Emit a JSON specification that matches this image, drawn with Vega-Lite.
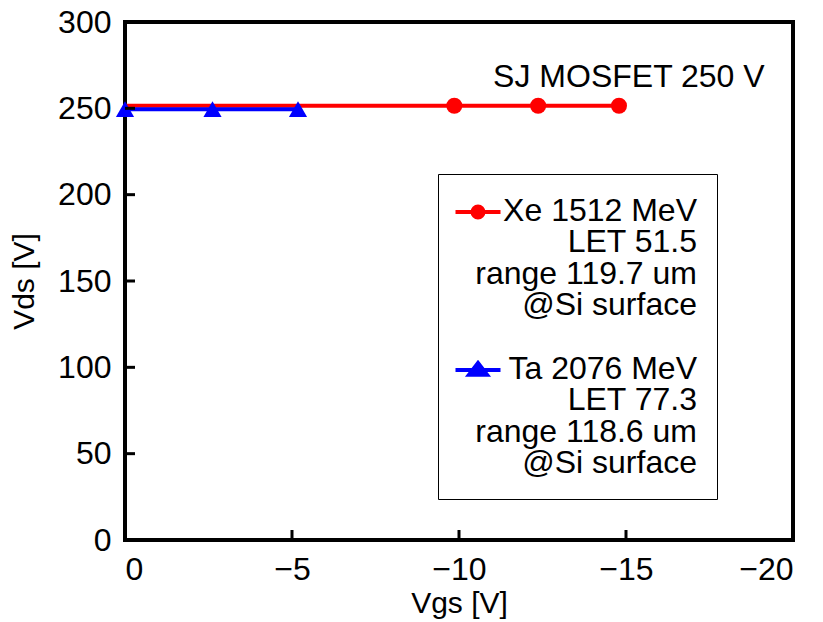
{
  "$schema": "https://vega.github.io/schema/vega-lite/v6.json",
  "width": 668,
  "height": 518,
  "autosize": {"type": "none"},
  "padding": {"left": 125, "top": 22, "right": 30, "bottom": 82},
  "background": "white",
  "title": {"text": "Ref. [11]", "fontSize": 32, "font": "Liberation Sans", "fontWeight": "normal", "baseline": "alphabetic", "offset": 17, "frame": "group", "color": "black"},
  "config": {
    "font": "Liberation Sans",
    "view": {"stroke": "black", "strokeWidth": 4},
    "axis": {"grid": false, "domain": false, "ticks": false, "labelFontSize": 32, "labelColor": "black", "titleFontSize": 30, "titleFontWeight": "normal", "titleColor": "black", "labelFont": "Liberation Sans", "titleFont": "Liberation Sans"}
  },
  "datasets": {
    "series": [
      {"ion": "Xe", "vgs": 0, "vds": 251.5},
      {"ion": "Xe", "vgs": -9.86, "vds": 251.5},
      {"ion": "Xe", "vgs": -12.37, "vds": 251.5},
      {"ion": "Xe", "vgs": -14.79, "vds": 251.5},
      {"ion": "Ta", "vgs": 0, "vds": 249.5},
      {"ion": "Ta", "vgs": -2.62, "vds": 249.5},
      {"ion": "Ta", "vgs": -5.18, "vds": 249.5}
    ],
    "xticks": [{"tick": -5}, {"tick": -10}, {"tick": -15}],
    "yticks": [{"tick": 50}, {"tick": 100}, {"tick": 150}, {"tick": 200}, {"tick": 250}]
  },
  "layer": [
    {
      "data": {"name": "series"},
      "mark": {"type": "line", "strokeWidth": 4},
      "encoding": {
        "x": {"field": "vgs", "type": "quantitative", "scale": {"domain": [-20, 0], "reverse": true, "nice": false},
          "axis": {"values": [0, -5, -10, -15, -20], "labelExpr": "datum.value == 0 ? '0' : '\u2212' + abs(datum.value)", "labelPadding": 14, "title": "Vgs [V]", "titlePadding": 3}},
        "y": {"field": "vds", "type": "quantitative", "scale": {"domain": [0, 300], "nice": false},
          "axis": {"values": [0, 50, 100, 150, 200, 250, 300], "labelPadding": 14, "title": "Vds [V]", "titlePadding": 18}},
        "color": {"field": "ion", "type": "nominal", "scale": {"domain": ["Xe", "Ta"], "range": ["#ff0000", "#0000ff"]}, "legend": {
          "orient": "none", "legendX": 313, "legendY": 152, "title": null, "direction": "vertical",
          "strokeColor": "black", "padding": 20,
          "labelFontSize": 32, "labelFont": "Liberation Sans", "labelColor": "black", "labelLimit": 500,
          "labelAlign": "right", "labelBaseline": "top", "rowPadding": 31, "symbolSize": 100,
          "labelExpr": "datum.value === 'Xe' ? ['Xe 1512 MeV', 'LET 51.5', 'range 119.7 um', '@Si surface'] : ['Ta 2076 MeV', 'LET 77.3', 'range 118.6 um', '@Si surface']",
          "encode": {
            "legend": {"update": {"strokeWidth": {"value": 1}}},
            "symbols": {"update": {
              "shape": {"signal": "datum.value === 'Xe' ? 'M-4.5,0H4.5M1.1,0A1.1,1.1 0 1 1 -1.1,0A1.1,1.1 0 1 1 1.1,0Z' : 'M-4.5,0H4.5M0,-1.4L1.8,0.95L-1.8,0.95Z'"},
              "size": {"value": 100},
              "x": {"value": 20},
              "y": {"value": 18},
              "fill": {"signal": "datum.value === 'Xe' ? '#ff0000' : '#0000ff'"},
              "stroke": {"signal": "datum.value === 'Xe' ? '#ff0000' : '#0000ff'"},
              "strokeWidth": {"value": 4},
              "opacity": {"value": 1}
            }},
            "labels": {"update": {"lineHeight": {"value": 31.3}, "x": {"value": 239}, "y": {"value": 2}, "align": {"value": "right"}, "baseline": {"value": "top"}}}
          }
        }}
      }
    },
    {
      "data": {"name": "series"},
      "transform": [{"filter": "datum.ion === 'Xe' && datum.vgs !== 0"}],
      "mark": {"type": "point", "filled": true, "opacity": 1, "shape": "circle", "size": 256},
      "encoding": {
        "x": {"field": "vgs", "type": "quantitative"},
        "y": {"field": "vds", "type": "quantitative"},
        "color": {"field": "ion", "type": "nominal"}
      }
    },
    {
      "data": {"name": "series"},
      "transform": [{"filter": "datum.ion === 'Ta'"}],
      "mark": {"type": "point", "filled": true, "opacity": 1, "shape": "triangle-up", "size": 330},
      "encoding": {
        "x": {"field": "vgs", "type": "quantitative"},
        "y": {"field": "vds", "type": "quantitative"},
        "color": {"field": "ion", "type": "nominal"}
      }
    },
    {
      "data": {"name": "xticks"},
      "mark": {"type": "rule", "color": "black", "strokeWidth": 3},
      "encoding": {
        "x": {"field": "tick", "type": "quantitative"},
        "y": {"datum": 0, "type": "quantitative"},
        "y2": {"datum": 5.8}
      }
    },
    {
      "data": {"name": "yticks"},
      "mark": {"type": "rule", "color": "black", "strokeWidth": 3},
      "encoding": {
        "y": {"field": "tick", "type": "quantitative"},
        "x": {"datum": 0, "type": "quantitative"},
        "x2": {"datum": -0.3}
      }
    },
    {
      "data": {"values": [{"note": "SJ MOSFET 250 V"}]},
      "mark": {"type": "text", "fontSize": 32, "font": "Liberation Sans", "align": "right", "baseline": "alphabetic", "fill": "black"},
      "encoding": {
        "x": {"datum": -19.15, "type": "quantitative"},
        "y": {"datum": 262.6, "type": "quantitative"},
        "text": {"field": "note", "type": "nominal"}
      }
    }
  ]
}
